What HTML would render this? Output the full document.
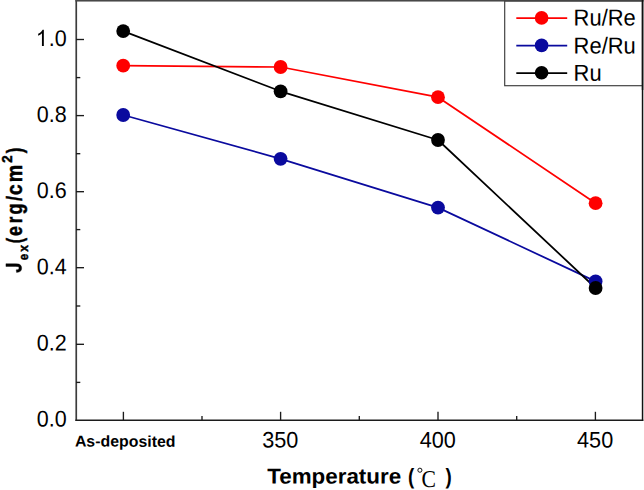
<!DOCTYPE html>
<html>
<head>
<meta charset="utf-8">
<style>
html,body{margin:0;padding:0;background:#fff;}
body{width:644px;height:490px;overflow:hidden;font-family:"Liberation Sans",sans-serif;}
svg{display:block;}
text{font-family:"Liberation Sans",sans-serif;fill:#000;}
.ax{stroke:#2a2a2a;stroke-width:1.5;fill:none;}
.tk{stroke:#1c1c1c;stroke-width:1.35;fill:none;}
.lbl{font-size:21.5px;}
</style>
</head>
<body>
<svg width="644" height="490" viewBox="0 0 644 490">
<rect x="0" y="0" width="644" height="490" fill="#fff"/>
<!-- frame -->
<line x1="76.25" y1="0" x2="76.25" y2="421" stroke="#3c3c3c" stroke-width="1.7"/>
<line x1="75.4" y1="420.2" x2="643.3" y2="420.2" stroke="#1c1c1c" stroke-width="1.35"/>
<rect x="75.4" y="0" width="568" height="1.55" fill="#484848"/>
<line x1="642.55" y1="0" x2="642.55" y2="421" stroke="#111" stroke-width="1.5"/>
<!-- y major ticks -->
<g class="tk">
<line x1="76" y1="39.5" x2="84" y2="39.5"/>
<line x1="76" y1="115.6" x2="84" y2="115.6"/>
<line x1="76" y1="191.7" x2="84" y2="191.7"/>
<line x1="76" y1="267.7" x2="84" y2="267.7"/>
<line x1="76" y1="344.3" x2="84" y2="344.3"/>
<!-- y minor -->
<line x1="76" y1="77.6" x2="80.3" y2="77.6"/>
<line x1="76" y1="153.7" x2="80.3" y2="153.7"/>
<line x1="76" y1="229.6" x2="80.3" y2="229.6"/>
<line x1="76" y1="306.0" x2="80.3" y2="306.0"/>
<line x1="76" y1="382.4" x2="80.3" y2="382.4"/>
<!-- x major -->
<line x1="123.4" y1="420" x2="123.4" y2="411.8"/>
<line x1="280.6" y1="420" x2="280.6" y2="411.8"/>
<line x1="438" y1="420" x2="438" y2="411.8"/>
<line x1="595.4" y1="420" x2="595.4" y2="411.8"/>
<!-- x minor -->
<line x1="202" y1="420" x2="202" y2="416"/>
<line x1="359.3" y1="420" x2="359.3" y2="416"/>
<line x1="516.7" y1="420" x2="516.7" y2="416"/>
</g>
<!-- y tick labels -->
<g font-size="22.6" text-anchor="end">
<text transform="translate(66.6 46.0) rotate(0.03) scale(0.951 1)">.0</text>
<path d="M372.6,0 L284.7,0 L284.7,560 Q252.9,529.8 201.4,499.5 Q149.9,469.2 108.9,454.1 L108.9,539.1 Q182.6,573.7 237.8,623 Q293,672.4 315.9,718.8 L372.6,718.8 Z" fill="#000" transform="translate(65.7 46.0) rotate(0.03) scale(0.951 1) translate(-31.41 0) scale(0.02260 -0.02260)"/>
<text transform="translate(66.6 122.1) rotate(0.03) scale(0.951 1)">0.8</text>
<text transform="translate(66.6 198.1) rotate(0.03) scale(0.951 1)">0.6</text>
<text transform="translate(66.6 274.2) rotate(0.03) scale(0.951 1)">0.4</text>
<text transform="translate(66.6 350.6) rotate(0.03) scale(0.951 1)">0.2</text>
<text transform="translate(66.6 426.4) rotate(0.03) scale(0.951 1)">0.0</text>
</g>
<!-- x tick labels -->
<g font-size="22.4" text-anchor="middle">
<text transform="translate(280.3 447.5) rotate(0.03) scale(0.968 1)">350</text>
<text transform="translate(437.7 447.5) rotate(0.03) scale(0.968 1)">400</text>
<text transform="translate(595.1 447.5) rotate(0.03) scale(0.968 1)">450</text>
</g>
<text font-size="15.7" font-weight="bold" transform="translate(74.9 446.6) rotate(0.03) scale(1.012 1)">As-deposited</text>
<!-- x title -->
<text font-size="21.4" font-weight="bold" transform="translate(267.3 483.4) rotate(0.03) scale(1.046 1)">Temperature</text>
<text font-size="22" font-weight="bold" transform="translate(408.1 483.7) rotate(0.03) scale(0.85 1)">(</text>
<text font-size="22" font-weight="bold" transform="translate(445.6 483.7) rotate(0.03) scale(0.85 1)">)</text>
<circle cx="419.9" cy="470.2" r="2.05" fill="none" stroke="#111" stroke-width="1"/>
<text font-size="21" style="font-family:'Liberation Serif',serif" transform="translate(421.4 486.9) rotate(0.03) scale(1.03 1.15)">C</text>
<!-- y title -->
<g>
<path fill="#000" stroke="#000" stroke-width="18" d="M339,716 L484,716 L484,263 Q484,174 468,126 Q447,63 392,25 Q336,-12 245,-12 Q138,-12 80,48 Q23,108 22,224 L159,240 Q161,178 177,152 Q201,112 250,112 Q300,112 320,140 Q339,169 339,259 Z" transform="translate(21.40 268.07) rotate(-90) scale(0.01889 -0.02160) translate(-253 0)"/>
<text stroke="#000" stroke-width="0.5" text-anchor="middle" font-size="13.5" font-weight="bold" transform="translate(27.80 257.16) rotate(-90) scale(0.851 1)">e</text>
<text stroke="#000" stroke-width="0.5" text-anchor="middle" font-size="13.5" font-weight="bold" transform="translate(27.80 248.43) rotate(-90) scale(0.892 1)">x</text>
<text stroke="#000" stroke-width="0.5" text-anchor="middle" font-size="21.3" font-weight="bold" transform="translate(21.50 240.37) rotate(-90) scale(0.709 1)">(</text>
<text stroke="#000" stroke-width="0.5" text-anchor="middle" font-size="21.3" font-weight="bold" transform="translate(21.50 231.17) rotate(-90) scale(0.831 1)">e</text>
<text stroke="#000" stroke-width="0.5" text-anchor="middle" font-size="21.3" font-weight="bold" transform="translate(21.50 220.01) rotate(-90) scale(0.791 1)">r</text>
<text stroke="#000" stroke-width="0.5" text-anchor="middle" font-size="21.3" font-weight="bold" transform="translate(21.50 208.88) rotate(-90) scale(0.850 1)">g</text>
<text stroke="#000" stroke-width="0.5" text-anchor="middle" font-size="21.3" font-weight="bold" transform="translate(21.50 198.65) rotate(-90) scale(0.819 1)">/</text>
<text stroke="#000" stroke-width="0.5" text-anchor="middle" font-size="21.3" font-weight="bold" transform="translate(21.50 189.65) rotate(-90) scale(0.897 1)">c</text>
<text stroke="#000" stroke-width="0.5" text-anchor="middle" font-size="21.3" font-weight="bold" transform="translate(21.50 173.51) rotate(-90) scale(0.923 1)">m</text>
<text stroke="#000" stroke-width="0.5" text-anchor="middle" font-size="14.0" font-weight="bold" transform="translate(11.90 158.97) rotate(-90) scale(0.951 1)">2</text>
<text stroke="#000" stroke-width="0.5" text-anchor="middle" font-size="21.3" font-weight="bold" transform="translate(21.50 150.46) rotate(-90) scale(0.785 1)">)</text>
</g>
<!-- data -->
<g fill="none" stroke-width="1.75" stroke-linejoin="round">
<polyline stroke="#ff0000" points="123.2,65.7 280.6,67.0 438,97.2 595.6,203.2"/>
<polyline stroke="#0a0a9e" points="123.2,115 280.6,158.8 438,207.6 595.6,281.4"/>
<polyline stroke="#000" points="123.2,31.1 280.6,91.3 438,140 595.6,288"/>
</g>
<g fill="#ff0000">
<circle cx="123.2" cy="65.7" r="6.9"/><circle cx="280.6" cy="67" r="6.9"/><circle cx="438" cy="97.2" r="6.9"/><circle cx="595.6" cy="203.2" r="6.9"/>
</g>
<g fill="#0a0a9e">
<circle cx="123.2" cy="115" r="6.9"/><circle cx="280.6" cy="158.8" r="6.9"/><circle cx="438" cy="207.6" r="6.9"/><circle cx="595.6" cy="281.4" r="6.9"/>
</g>
<g fill="#000">
<circle cx="123.2" cy="31.1" r="6.9"/><circle cx="280.6" cy="91.3" r="6.9"/><circle cx="438" cy="140" r="6.9"/><circle cx="595.6" cy="288" r="6.9"/>
</g>
<!-- legend -->
<rect x="504.7" y="1" width="137.6" height="84.7" fill="#fff" stroke="#3c3c3c" stroke-width="1.15"/>
<rect x="504" y="0" width="139.3" height="1.5" fill="#444"/>
<line x1="642.55" y1="0" x2="642.55" y2="90" stroke="#111" stroke-width="1.5"/>
<g stroke-width="1.75">
<line x1="516.3" y1="18.1" x2="567.2" y2="18.1" stroke="#ff0000"/>
<line x1="516.3" y1="45.7" x2="567.2" y2="45.7" stroke="#0a0a9e"/>
<line x1="516.3" y1="73.0" x2="567.2" y2="73.0" stroke="#000"/>
</g>
<circle cx="541.6" cy="17.9" r="6.8" fill="#ff0000"/>
<circle cx="541.6" cy="45.4" r="6.8" fill="#0a0a9e"/>
<circle cx="541.6" cy="72.8" r="6.8" fill="#000"/>
<g font-size="23.1">
<text transform="translate(573.6 25.45) rotate(0.03) scale(0.95 1)">Ru/Re</text>
<text transform="translate(573.6 53.45) rotate(0.03) scale(0.95 1)">Re/Ru</text>
<text transform="translate(573.6 80.75) rotate(0.03) scale(0.95 1)">Ru</text>
</g>
</svg>
</body>
</html>
